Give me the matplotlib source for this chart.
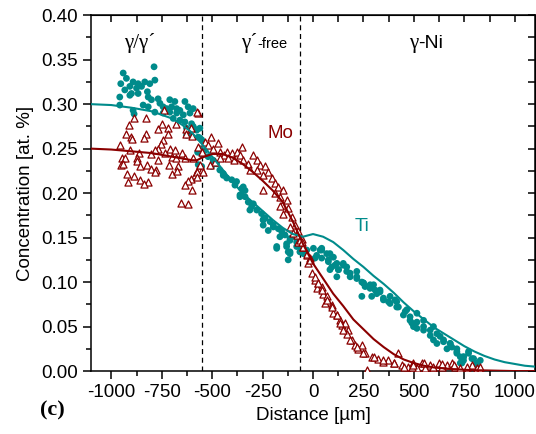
import matplotlib
matplotlib.use("Agg")
import matplotlib.pyplot as plt

plt.rcParams['font.family'] = ['Liberation Sans', 'DejaVu Sans']
plt.rcParams['axes.unicode_minus'] = False

teal = '#008B8B'
wine = '#8B0000'

# Ti measured points (distance um, concentration at.%)
ti_x = [-788, -941, -925, -953, -892, -867, -834, -809, -784, -908, -875, -850, -933, -900, -867,
        -821, -908, -958, -817, -801, -768, -958, -842, -817, -759, -710, -685, -635, -743, -726,
        -701, -676, -660, -619, -594, -892, -784, -743, -710, -676, -643, -610, -887, -693, -660,
        -635, -602, -627, -594, -577, -561, -610, -627, -569, -552, -561, -572, -549, -569, -552,
        -577, -561, -536, -520, -495, -478, -503, -462, -445, -428, -403, -379, -387, -354, -337,
        -362, -337, -321, -296, -313, -279, -255, -238, -213, -247, -197, -172, -155, -139, -114,
        -180, -131, -89, -81, -123, -445, -346, -362, -304, -247, -222, -131, -114, -65, -31,
        -81, -65, -40, 2, 35, 18, 68, 43, 101, 76, 109, 150, 126, 167, 118, 184, 217, 242, 258,
        283, 308, 332, 291, 349, 374, 407, 423, 457, 481, 498, 43, 84, 84, 118, 167, 217, 250,
        300, 332, 382, 415, 465, 515, 548, 597, 630, 680, 713, 746, 771, -114,
        490, 515, 548, 581, 597, 614, 647, 664, 688, 713, 730, 746, 771, 788, 812, 829, 738, 796,
        -247, -197, -164, -114, -123, -180, -48, 10, 43, 76, 93, 126, 150, 184, 217, 250, 283,
        242, 316, 349, 382, 415, 448, 481, 515, 548, 581, 614, 647, 680, 713, 746, 796, 730]
ti_y = [0.342, 0.335, 0.329, 0.323, 0.325, 0.323, 0.325, 0.323, 0.327, 0.320, 0.318, 0.320, 0.316, 0.312, 0.312,
        0.314, 0.310, 0.308, 0.308, 0.305, 0.306, 0.299, 0.299, 0.297, 0.301, 0.305, 0.303, 0.303, 0.297, 0.295,
        0.297, 0.295, 0.293, 0.297, 0.295, 0.293, 0.291, 0.290, 0.291, 0.290, 0.288, 0.290, 0.289, 0.284, 0.282,
        0.280, 0.278, 0.273, 0.275, 0.271, 0.273, 0.267, 0.265, 0.263, 0.260, 0.250, 0.246, 0.243, 0.232, 0.230,
        0.271, 0.262, 0.248, 0.241, 0.237, 0.233, 0.230, 0.226, 0.220, 0.217, 0.215, 0.213, 0.209, 0.205, 0.203,
        0.198, 0.196, 0.190, 0.188, 0.181, 0.181, 0.177, 0.172, 0.168, 0.164, 0.164, 0.160, 0.157, 0.153, 0.149,
        0.140, 0.143, 0.151, 0.145, 0.134, 0.222, 0.207, 0.196, 0.185, 0.170, 0.158, 0.140, 0.134, 0.140, 0.136,
        0.140, 0.134, 0.132, 0.138, 0.136, 0.130, 0.132, 0.127, 0.128, 0.123, 0.119, 0.119, 0.114, 0.112, 0.106, 0.106, 0.106, 0.100, 0.095,
        0.097, 0.091, 0.089, 0.084, 0.082, 0.078, 0.080, 0.072, 0.067, 0.057, 0.050, 0.138, 0.132, 0.114, 0.121, 0.117, 0.112, 0.099,
        0.097, 0.091, 0.084, 0.078, 0.069, 0.065, 0.057, 0.050, 0.039, 0.031, 0.020, 0.016, 0.022, 0.132,
        0.054, 0.048, 0.046, 0.040, 0.035, 0.031, 0.033, 0.025, 0.027, 0.022, 0.016, 0.012, 0.020, 0.014, 0.009, 0.012, 0.009, 0.006,
        0.170, 0.162, 0.151, 0.147, 0.125, 0.138, 0.132, 0.127, 0.136, 0.125, 0.117, 0.114, 0.121, 0.110, 0.104, 0.099, 0.093,
        0.084, 0.087, 0.080, 0.076, 0.072, 0.063, 0.061, 0.055, 0.050, 0.046, 0.042, 0.035, 0.031, 0.025, 0.016, 0.014, 0.009]

# Mo measured points
mo_x = [-738, -887, -830, -572, -913, -748, -681, -768, -721, -926, -826, -630, -605, -903, -896,
        -840, -721, -629, -599, -743, -754, -958, -907, -768, -781, -710, -685, -649, -862, -801,
        -734, -701, -677, -635, -594, -946, -933, -875, -872, -953, -940, -821, -768, -715, -668,
        -859, -801, -777, -785, -920, -701, -672, -572, -552, -586, -887, -859, -817, -917, -837,
        -605, -622, -635, -602, -655, -622,
        -577, -506, -470, -536, -569, -523, -552, -495, -462, -428, -440, -403, -379, -362, -354,
        -420, -391, -462, -486, -511, -561, -577, -544, -577, -346, -321, -296, -279, -263, -313,
        -279, -238, -222, -247, -205, -247, -189, -172, -147, -189, -164, -131, -155, -123, -147,
        -106, -89, -73, -56, -73, -48,
        -81, -65, -48, -31, -15, -23, -6, 10, 26, 18, 43, 51, 68, 76, 60, 93, 101, 118, 134, 142,
        159, 175, 167, 192, 208, 225, 242, 258, 266, 291, 324, 349, 374, 399, 423, 440, 473, 498,
        498, 540, 581, 622, 639, 664, 688, 705, 730, 763, 788, 812, 829, 515, 556, 597, 490,
        -164, -114, -98, -56, -31, -15, 10, 26, 43, 68, 93, 118, 134, 151, 184, 217, 250, 300,
        349, 399, 449, 498, 548, 597, 639, 697, 763, 829]
mo_y = [0.293, 0.285, 0.285, 0.290, 0.277, 0.278, 0.278, 0.272, 0.273, 0.266, 0.266, 0.272, 0.273, 0.263, 0.261,
        0.262, 0.266, 0.266, 0.264, 0.260, 0.255, 0.254, 0.249, 0.250, 0.248, 0.250, 0.248, 0.245, 0.245, 0.244,
        0.245, 0.241, 0.240, 0.239, 0.239, 0.239, 0.239, 0.239, 0.236, 0.232, 0.233, 0.232, 0.237, 0.232, 0.230,
        0.230, 0.227, 0.226, 0.224, 0.222, 0.221, 0.225, 0.227, 0.226, 0.220, 0.219, 0.215, 0.213, 0.212, 0.210,
        0.216, 0.214, 0.209, 0.204, 0.189, 0.188,
        0.291, 0.263, 0.256, 0.258, 0.252, 0.254, 0.246, 0.250, 0.246, 0.246, 0.243, 0.245, 0.246, 0.243, 0.252,
        0.239, 0.237, 0.239, 0.235, 0.232, 0.232, 0.224, 0.224, 0.218, 0.237, 0.233, 0.243, 0.237, 0.232, 0.226,
        0.226, 0.230, 0.224, 0.220, 0.217, 0.203, 0.211, 0.207, 0.203, 0.200, 0.196, 0.192, 0.187, 0.183, 0.177,
        0.173, 0.164, 0.157, 0.149, 0.145, 0.140,
        0.153, 0.147, 0.140, 0.130, 0.127, 0.121, 0.110, 0.102, 0.099, 0.093, 0.095, 0.087, 0.084, 0.078, 0.076, 0.074, 0.065, 0.063, 0.057, 0.052,
        0.054, 0.046, 0.042, 0.035, 0.029, 0.025, 0.029, 0.020, 0.001, 0.016, 0.014, 0.010, 0.012, 0.009, 0.020, 0.007, 0.005, 0.003,
        0.009, 0.009, 0.007, 0.009, 0.005, 0.007, 0.009, 0.005, 0.003, 0.001, 0.007, 0.004, 0.001, 0.004, 0.004, 0.003, 0.005,
        0.185, 0.162, 0.155, 0.145, 0.132, 0.125, 0.106, 0.099, 0.091, 0.080, 0.072, 0.063, 0.054, 0.046, 0.035, 0.027, 0.020, 0.016,
        0.012, 0.009, 0.005, 0.007, 0.009, 0.005, 0.008, 0.007, 0.005, 0.005]

# fitted curves
ti_fit_x = [-1100, -1000, -900, -800, -700, -650, -600, -550, -500, -450, -400, -350, -300, -250,
            -200, -150, -100, -50, 0, 50, 100, 150, 200, 250, 300, 350, 400, 450, 500, 550, 600,
            650, 700, 750, 800, 850, 900, 950, 1000, 1050, 1100]
ti_fit_y = [0.300, 0.299, 0.296, 0.292, 0.284, 0.277, 0.268, 0.255, 0.241, 0.227, 0.213, 0.200, 0.190, 0.180,
            0.170, 0.161, 0.154, 0.151, 0.154, 0.151, 0.145, 0.136, 0.126, 0.117, 0.107, 0.098, 0.088, 0.077,
            0.067, 0.058, 0.049, 0.042, 0.035, 0.028, 0.022, 0.017, 0.013, 0.010, 0.008, 0.006, 0.005]
mo_fit_x = [-1100, -1000, -900, -800, -700, -600, -575, -550, -500, -450, -400, -350, -300, -250, -200,
            -150, -100, -50, 0, 50, 100, 150, 200, 250, 300, 350, 400, 450, 500, 550, 600, 700, 800,
            900, 1000, 1100]
mo_fit_y = [0.250, 0.249, 0.247, 0.245, 0.241, 0.237, 0.237, 0.240, 0.244, 0.244, 0.240, 0.233, 0.224,
            0.214, 0.203, 0.190, 0.168, 0.143, 0.121, 0.104, 0.087, 0.073, 0.058, 0.047, 0.036, 0.027,
            0.019, 0.013, 0.009, 0.006, 0.004, 0.002, 0.001, 0.0005, 0.0, 0.0]

boundaries = [-550, -65]

fig = plt.figure(figsize=(5.36, 4.34), dpi=100)
ax = fig.add_axes([0.170, 0.145, 0.828, 0.820])

ax.scatter(ti_x, ti_y, s=24, color=teal, edgecolors='none', zorder=2)
ax.scatter(mo_x, mo_y, s=26, marker='^', facecolors='white', edgecolors=wine, linewidths=0.9, zorder=3)
ax.plot(ti_fit_x, ti_fit_y, color=teal, lw=1.5, zorder=4)
ax.plot(mo_fit_x, mo_fit_y, color=wine, lw=1.5, zorder=4)

for b in boundaries:
    ax.axvline(b, color='black', ls=(0, (4, 3)), lw=0.9, zorder=1)

ax.set_xlim(-1100, 1100)
ax.set_ylim(0, 0.40)
ax.set_xticks([-1000, -750, -500, -250, 0, 250, 500, 750, 1000])
ax.set_xticks(range(-1000, 1001, 125), minor=True)
ax.set_yticks([0.0, 0.05, 0.10, 0.15, 0.20, 0.25, 0.30, 0.35, 0.40])
ax.set_yticks([0.025 + 0.05 * i for i in range(8)], minor=True)
ax.set_yticklabels(['%.2f' % v for v in ax.get_yticks()])

for s in ax.spines.values():
    s.set_linewidth(1.1)
ax.tick_params(which='both', labelsize=13.5, width=1.1, direction='out')
ax.tick_params(which='major', length=6)
ax.tick_params(which='minor', length=3.5)

# mirrored inward ticks on top and right
top = ax.secondary_xaxis('top')
top.set_xticks(ax.get_xticks())
top.set_xticks(range(-1000, 1001, 125), minor=True)
top.tick_params(which='both', direction='in', length=5, width=1.1, labeltop=False)
right = ax.secondary_yaxis('right')
right.set_yticks(ax.get_yticks())
right.set_yticks([0.025 + 0.05 * i for i in range(8)], minor=True)
right.tick_params(which='both', direction='in', length=5, width=1.1, labelright=False)

ax.set_xlabel('Distance [\u00b5m]', fontsize=13.5, labelpad=4)
ax.set_ylabel('Concentration [at. %]', fontsize=13.5, labelpad=5)

serif = ['Liberation Serif', 'DejaVu Serif']
ax.text(-858, 0.363, '\u03b3/\u03b3\u00b4', fontsize=15, family=serif, ha='center', va='baseline')
ax.text(-278, 0.363, '\u03b3\u00b4', fontsize=15, family=serif, ha='right', va='baseline')
ax.text(-278, 0.363, '-free', fontsize=10.5, ha='left', va='baseline')
ax.text(521, 0.363, '\u03b3', fontsize=15, family=serif, ha='right', va='baseline')
ax.text(521, 0.363, '-Ni', fontsize=14, ha='left', va='baseline')

ax.text(-164, 0.267, 'Mo', fontsize=13.5, color=wine, ha='center', va='center')
ax.text(243, 0.162, 'Ti', fontsize=13.5, color=teal, ha='center', va='center')

fig.text(0.097, 0.055, '(c)', fontsize=16, fontweight='bold', family=serif, ha='center', va='center')

fig.savefig('out.png', dpi=100)
